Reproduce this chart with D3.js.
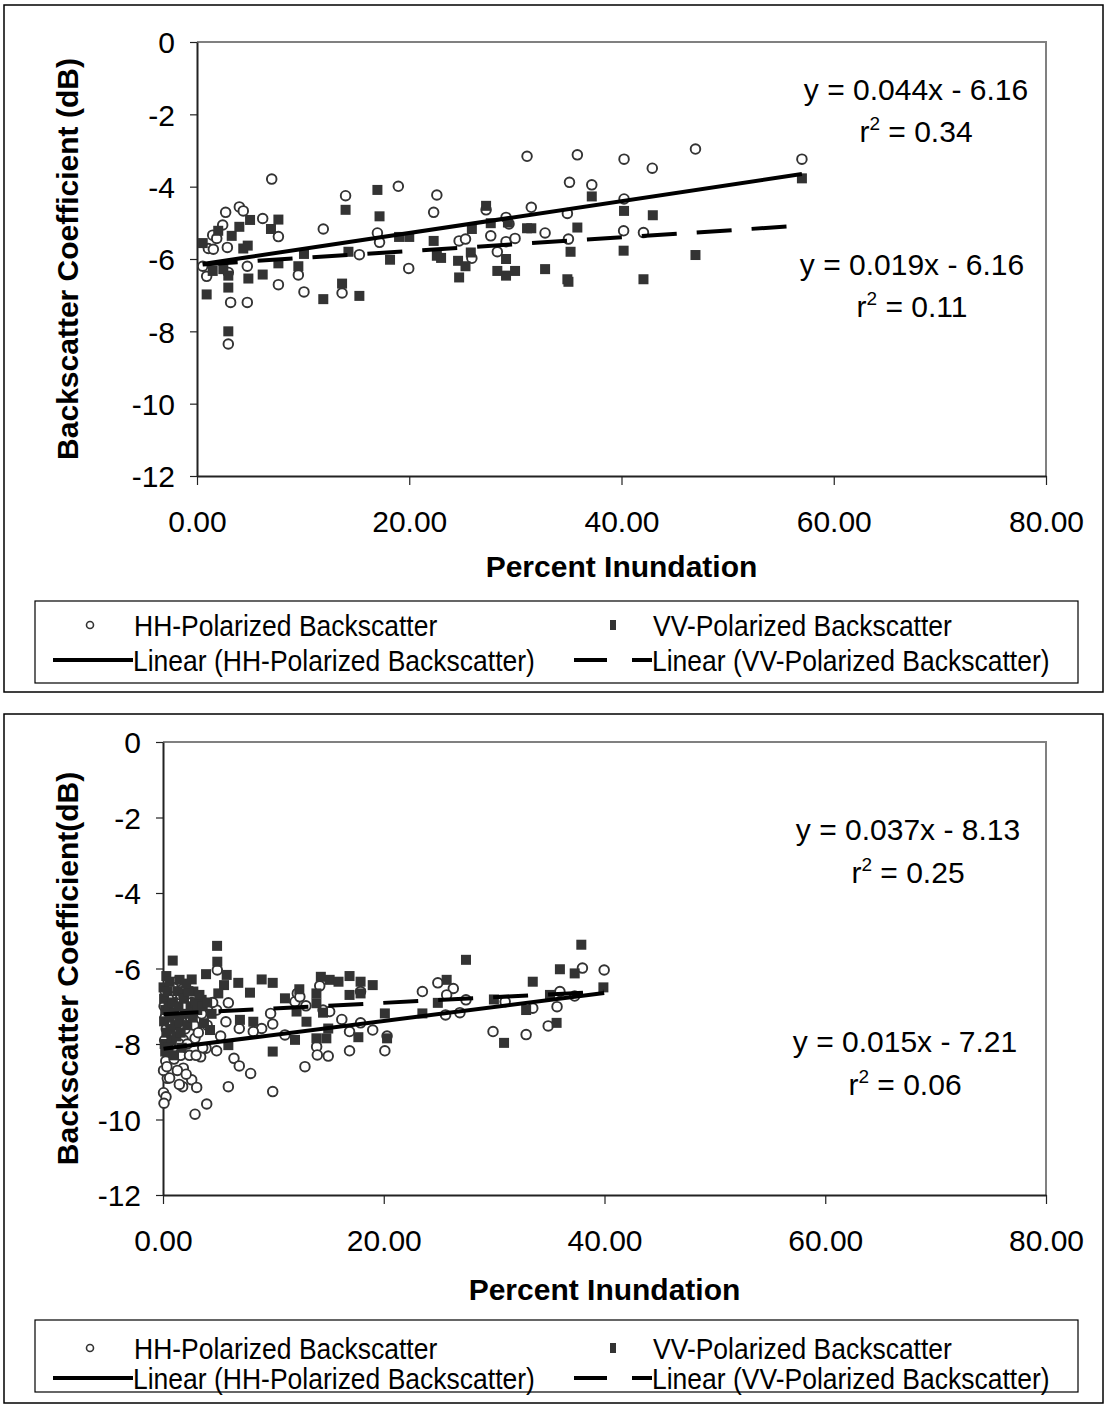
<!DOCTYPE html>
<html>
<head>
<meta charset="utf-8">
<script src="https://cdn.jsdelivr.net/npm/d3@7"></script>
<style>
body { margin:0; background:#fff; }
svg { display:block; font-family: Arial, "Liberation Sans", sans-serif; }
</style>
</head>
<body>
<svg id="chart" width="1105" height="1405"></svg>
<script>

var xTicks = [0, 20, 40, 60, 80];
var yTicks = [0, -2, -4, -6, -8, -10, -12];
var legendLabels = ["HH-Polarized Backscatter", "VV-Polarized Backscatter",
  "Linear (HH-Polarized Backscatter)", "Linear (VV-Polarized Backscatter)"];

// top panel, [percent inundation, dB]
var hhTop = [[0.54,-6.2],[0.91,-6.48],[1.07,-5.71],[1.48,-5.34],[1.54,-5.73],[1.86,-5.43],[2.42,-5.06],[2.7,-4.71],
  [2.86,-5.68],[2.95,-6.37],[2.95,-8.35],[3.17,-7.2],[3.99,-4.56],[4.36,-4.67],[4.74,-6.2],[4.74,-7.2],[6.19,-4.88],
  [7.04,-3.79],[7.67,-5.38],[7.67,-6.71],[9.55,-6.44],[10.08,-6.91],[11.9,-5.17],[13.67,-6.94],[14.0,-4.25],
  [15.3,-5.88],[17.0,-5.28],[17.2,-5.54],[18.97,-3.99],[19.95,-6.26],[22.3,-4.71],[22.6,-4.23],[24.7,-5.5],
  [25.3,-5.45],[25.9,-5.98],[27.24,-4.64],[27.68,-5.36],[28.3,-5.8],[29.12,-4.85],[29.12,-5.52],[29.4,-5.03],
  [29.97,-5.43],[31.1,-3.16],[31.5,-4.57],[32.8,-5.28],[34.9,-4.74],[35.0,-5.45],[35.1,-3.88],[35.84,-3.12],
  [37.2,-3.95],[40.2,-5.22],[40.24,-3.24],[40.24,-4.34],[42.07,-5.27],[42.9,-3.49],[46.97,-2.96],[57.0,-3.24]];
var vvTop = [[0.54,-5.56],[0.91,-6.98],[1.48,-6.33],[2.0,-5.22],[2.48,-6.28],[2.95,-6.46],[2.95,-6.79],[2.95,-8.0],
  [3.27,-5.36],[3.99,-5.11],[4.36,-5.71],[4.78,-5.63],[4.84,-6.54],[5.0,-4.92],[6.19,-6.43],[6.97,-5.17],[7.67,-4.91],
  [7.67,-6.12],[9.55,-6.2],[10.08,-5.86],[11.9,-7.11],[13.67,-6.68],[14.0,-4.64],[14.27,-5.8],[15.3,-7.02],
  [17.0,-4.09],[17.2,-4.82],[18.19,-6.02],[19.04,-5.39],[20.0,-5.39],[22.3,-5.5],[22.6,-5.91],[23.0,-5.97],
  [24.6,-6.05],[24.7,-6.51],[25.3,-6.2],[25.8,-5.82],[25.9,-5.17],[27.24,-4.53],[27.68,-5.01],[28.3,-6.33],
  [29.12,-6.0],[29.12,-6.46],[29.3,-4.99],[29.97,-6.33],[31.1,-5.15],[31.5,-5.15],[32.8,-6.28],[34.9,-6.56],
  [35.0,-6.63],[35.2,-5.8],[35.84,-5.13],[37.2,-4.27],[40.2,-5.77],[40.24,-4.67],[42.07,-6.56],[42.95,-4.79],
  [46.97,-5.89],[57.0,-3.77]];

// bottom panel
var hhBottom = [[1.24,-6.35],[4.92,-6.04],[5.92,-6.91],[4.86,-7.1],[5.7,-7.41],[5.22,-7.79],[4.86,-8.18],[3.9,-8.11],
  [3.41,-8.34],[2.9,-7.85],[1.84,-7.89],[1.84,-8.64],[2.6,-8.95],[3.05,-9.15],[1.78,-9.13],[1.48,-9.07],[0.39,-8.91],
  [0.05,-9.29],[0.27,-9.4],[0.09,-9.57],[2.9,-9.86],[3.96,-9.59],[5.92,-9.13],[6.43,-8.38],[6.91,-8.58],[7.94,-8.78],
  [9.94,-9.26],[8.94,-7.59],[9.75,-7.19],[9.94,-7.47],[8.18,-7.67],[6.91,-7.59],[11.05,-7.76],[11.96,-6.88],
  [12.17,-6.66],[12.4,-6.75],[12.95,-6.99],[12.86,-8.6],[13.92,-8.07],[13.98,-8.29],[14.97,-8.32],[14.2,-6.46],
  [14.5,-7.1],[15.1,-7.14],[16.2,-7.35],[16.9,-7.67],[16.9,-8.18],[17.9,-7.44],[17.9,-6.61],[19.0,-7.63],
  [20.1,-8.18],[20.3,-7.79],[23.5,-6.61],[24.9,-6.38],[26.3,-6.53],[25.7,-6.7],[25.6,-7.23],[26.9,-7.17],
  [27.45,-6.83],[29.9,-7.67],[31.0,-6.88],[32.9,-7.75],[33.5,-7.05],[34.9,-7.52],[35.7,-7.01],[35.96,-6.61],
  [37.3,-6.73],[38.0,-5.99],[39.97,-6.04],
  [0.1,-7.0],[0.2,-7.3],[0.3,-7.6],[0.15,-7.9],[0.4,-8.2],[0.25,-8.45],[0.6,-7.15],[0.7,-7.5],[0.8,-7.8],
  [0.9,-8.1],[1.0,-8.4],[1.1,-7.3],[1.3,-7.7],[1.5,-8.0],[1.6,-8.3],[1.7,-7.4],[2.0,-7.6],[2.2,-8.0],[2.4,-8.3],
  [2.5,-7.3],[2.8,-7.5],[3.2,-7.7],[0.5,-6.8],[1.2,-6.9],[1.9,-7.0],[0.05,-8.7],[0.35,-8.6],[0.6,-8.9],[1.3,-8.7],
  [2.1,-8.8],[0.2,-6.6],[0.9,-6.5],[1.6,-6.7],[2.6,-6.9],[3.5,-7.2],[4.0,-7.5],[4.5,-6.9],[3.0,-8.3],[3.6,-8.1]];
var vvBottom = [[0.88,-5.79],[4.92,-5.82],[4.9,-5.4],[2.6,-6.29],[3.9,-6.15],[5.77,-6.17],[6.82,-6.38],[5.53,-6.44],
  [8.94,-6.29],[9.94,-6.38],[7.88,-6.64],[5.01,-6.66],[3.5,-6.83],[2.75,-6.61],[1.84,-6.66],[11.05,-6.79],
  [12.35,-6.55],[12.1,-7.14],[13.0,-7.41],[14.3,-6.22],[15.1,-6.3],[13.9,-6.66],[13.9,-6.92],[14.5,-7.17],
  [15.9,-6.35],[16.9,-6.2],[16.9,-6.7],[17.9,-6.35],[17.9,-6.66],[19.0,-6.44],[13.9,-7.85],[14.8,-7.85],
  [14.97,-7.59],[11.96,-7.89],[6.97,-7.36],[5.92,-8.03],[9.94,-8.2],[17.7,-7.82],[20.3,-7.85],[20.1,-7.19],
  [8.18,-7.41],[3.71,-7.45],[4.26,-7.63],[27.45,-5.77],[25.7,-6.3],[23.5,-7.19],[24.9,-6.91],[29.98,-6.82],
  [30.9,-7.97],[32.9,-7.1],[33.5,-6.35],[35.06,-6.7],[35.66,-7.44],[35.96,-6.02],[37.3,-6.13],[37.9,-5.37],
  [39.9,-6.5],
  [0.05,-6.5],[0.1,-6.8],[0.2,-7.1],[0.1,-7.4],[0.3,-7.7],[0.15,-8.0],[0.4,-6.6],[0.5,-7.0],[0.6,-7.3],[0.7,-7.6],
  [0.8,-7.9],[0.9,-6.9],[1.0,-7.2],[1.1,-7.5],[1.2,-7.8],[1.3,-6.6],[1.4,-7.0],[1.5,-7.4],[1.6,-7.7],[1.7,-8.1],
  [1.9,-6.8],[2.0,-7.2],[2.2,-7.5],[2.3,-6.6],[2.5,-7.0],[2.7,-7.3],[2.9,-6.9],[3.1,-7.1],[3.3,-6.7],[3.6,-7.0],
  [4.0,-6.9],[4.4,-7.2],[0.3,-6.2],[0.6,-6.35],[1.5,-6.3],[2.1,-6.4],[0.2,-8.2],[0.5,-8.1],[1.0,-8.3]];

// trendline equations printed on the charts
var fitsTop = [{m: 0.044, b: -6.16, r2: "0.34"}, {m: 0.019, b: -6.16, r2: "0.11"}];
var fitsBottom = [{m: 0.037, b: -8.13, r2: "0.25"}, {m: 0.015, b: -7.21, r2: "0.06"}];

var svg = d3.select('#chart');

function fmtEq(f) {
  return "y = " + f.m.toFixed(3) + "x - " + Math.abs(f.b).toFixed(2);
}

// legend text in the original is a bit taller than it is wide
function tallText(parent, x, y, str) {
  return parent.append('g')
    .attr('transform', 'translate(' + x + ',' + y + ') scale(1,1.12)')
    .append('text').attr('dy', '0.36em').text(str);
}

function drawPanel(p) {
  var g = svg.append('g');

  g.append('rect')
    .attr('x', p.box[0]).attr('y', p.box[1])
    .attr('width', p.box[2]).attr('height', p.box[3])
    .attr('fill', 'none').attr('stroke', '#000').attr('stroke-width', 1.5);

  var x = d3.scaleLinear().domain([0, 80]).range([p.l, p.r]);
  var y = d3.scaleLinear().domain([-12, 0]).range([p.b, p.t]);

  // gray frame on top/right
  g.append('path')
    .attr('d', 'M' + p.l + ',' + p.t + 'H' + p.r + 'V' + p.b)
    .attr('fill', 'none').attr('stroke', '#808080').attr('stroke-width', 2);

  var xAxis = g.append('g')
    .attr('transform', 'translate(0,' + p.b + ')')
    .call(d3.axisBottom(x).tickValues(xTicks).tickSize(9).tickSizeOuter(0)
      .tickFormat(function(d) { return d.toFixed(2); }));
  xAxis.select('.domain').attr('stroke', '#222').attr('stroke-width', 2);
  xAxis.selectAll('.tick line').attr('stroke', '#222').attr('stroke-width', 1.2);
  xAxis.selectAll('.tick text')
    .attr('font-size', 30).attr('fill', '#000').attr('font-family', 'Arial, Liberation Sans')
    .attr('y', 56).attr('dy', 0);

  var yAxis = g.append('g')
    .attr('transform', 'translate(' + p.l + ',0)')
    .call(d3.axisLeft(y).tickValues(yTicks).tickSize(7).tickSizeOuter(0)
      .tickFormat(function(d) { return String(d); }));
  yAxis.select('.domain').attr('stroke', '#222').attr('stroke-width', 2);
  yAxis.selectAll('.tick line').attr('stroke', '#222').attr('stroke-width', 1.2);
  yAxis.selectAll('.tick text')
    .attr('font-size', 30).attr('fill', '#000').attr('font-family', 'Arial, Liberation Sans')
    .attr('x', -22).attr('dy', '0.36em');

  // axis titles
  g.append('text')
    .attr('x', (p.l + p.r) / 2).attr('y', p.xTitleY)
    .attr('text-anchor', 'middle').attr('font-size', 30).attr('font-weight', 'bold')
    .text('Percent Inundation');
  g.append('text')
    .attr('transform', 'translate(' + p.yTitleX + ',' + (p.t + p.b) / 2 + ') rotate(-90)')
    .attr('text-anchor', 'middle').attr('font-size', 30).attr('font-weight', 'bold')
    .text(p.yTitle);

  // points
  g.append('g').selectAll('circle')
    .data(p.hh).enter()
    .append('circle')
    .attr('cx', function(d) { return x(d[0]); })
    .attr('cy', function(d) { return y(d[1]); })
    .attr('r', 4.8)
    .attr('fill', '#fff').attr('stroke', '#333').attr('stroke-width', 1.9);

  g.append('g').selectAll('rect')
    .data(p.vv).enter()
    .append('rect')
    .attr('x', function(d) { return x(d[0]) - 5; })
    .attr('y', function(d) { return y(d[1]) - 5; })
    .attr('width', 10).attr('height', 10)
    .attr('fill', '#333');

  // trend lines + equations
  var series = [p.hh, p.vv];
  p.fits.forEach(function(f, i) {
    var ext = d3.extent(series[i], function(d) { return d[0]; });
    g.append('line')
      .attr('x1', x(ext[0])).attr('y1', y(f.m * ext[0] + f.b))
      .attr('x2', x(ext[1])).attr('y2', y(f.m * ext[1] + f.b))
      .attr('stroke', '#000').attr('stroke-width', 4)
      .attr('stroke-dasharray', i == 1 ? '35,20' : null);

    g.append('text')
      .attr('x', p.eqX[i]).attr('y', p.eqY[i])
      .attr('text-anchor', 'middle').attr('font-size', 30)
      .text(fmtEq(f));
    var r = g.append('text')
      .attr('x', p.eqX[i]).attr('y', p.eqY[i] + p.eqGap)
      .attr('text-anchor', 'middle').attr('font-size', 30);
    r.append('tspan').text('r');
    r.append('tspan').attr('font-size', 19).attr('dy', -12).text('2');
    r.append('tspan').attr('dy', 12).text(' = ' + f.r2);
  });

  // legend
  var L = p.legend;
  g.append('rect')
    .attr('x', L.x).attr('y', L.y).attr('width', L.w).attr('height', L.h)
    .attr('fill', 'none').attr('stroke', '#000').attr('stroke-width', 1.2);

  var lg = g.append('g').attr('font-size', 26.5);
  lg.append('circle').attr('cx', 90).attr('cy', L.row1).attr('r', 3.5)
    .attr('fill', '#fff').attr('stroke', '#333').attr('stroke-width', 1.6);
  tallText(lg, 134, L.row1, legendLabels[0]);
  lg.append('rect').attr('x', 610).attr('y', L.row1 - 5).attr('width', 6).attr('height', 10).attr('fill', '#333');
  tallText(lg, 653, L.row1, legendLabels[1]);

  lg.append('line').attr('x1', 53).attr('x2', 133).attr('y1', L.row2).attr('y2', L.row2)
    .attr('stroke', '#000').attr('stroke-width', 4);
  tallText(lg, 133, L.row2, legendLabels[2]);
  lg.append('line').attr('x1', 574).attr('x2', 652).attr('y1', L.row2).attr('y2', L.row2)
    .attr('stroke', '#000').attr('stroke-width', 4).attr('stroke-dasharray', '33,25,20');
  tallText(lg, 652, L.row2, legendLabels[3]);
}

drawPanel({
  box: [4, 5, 1099, 687],
  l: 197, r: 1046, t: 42, b: 476,
  hh: hhTop, vv: vvTop, fits: fitsTop,
  yTitle: 'Backscatter Coefficient (dB)', yTitleX: 78, xTitleY: 577,
  eqX: [916, 912], eqY: [100, 275], eqGap: 42,
  legend: {x: 35, y: 601, w: 1043, h: 82, row1: 625, row2: 660}
});

drawPanel({
  box: [4, 714, 1099, 689],
  l: 163, r: 1046, t: 742, b: 1195,
  hh: hhBottom, vv: vvBottom, fits: fitsBottom,
  yTitle: 'Backscatter Coefficient(dB)', yTitleX: 78, xTitleY: 1300,
  eqX: [908, 905], eqY: [840, 1052], eqGap: 43,
  legend: {x: 35, y: 1320, w: 1043, h: 72, row1: 1348, row2: 1378}
});

</script>
</body>
</html>
